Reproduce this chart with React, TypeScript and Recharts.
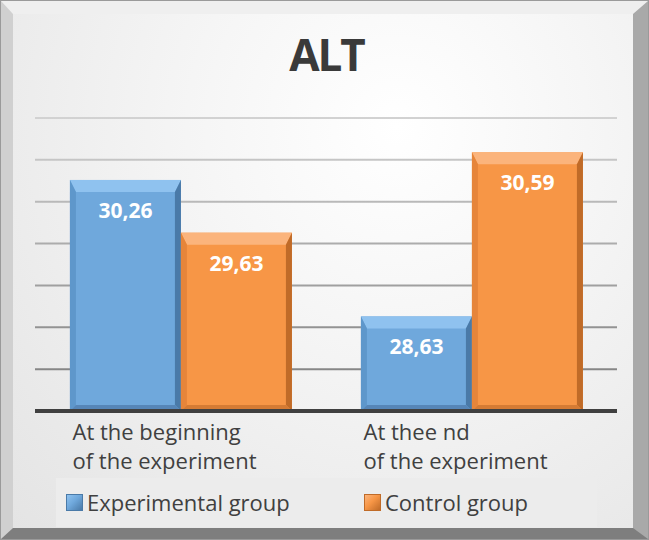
import React from "react";
import { BarChart, Bar, XAxis, YAxis, CartesianGrid, Legend, LabelList } from "recharts";

const categories = ["At the beginning\nof the experiment", "At thee nd\nof the experiment"];
const experimental = [30.26, 28.63];
const control = [29.63, 30.59];
const yTicks = [27.5, 28, 28.5, 29, 29.5, 30, 30.5, 31];

const seriesNames = ["Experimental group", "Control group"];
const seriesTones = ["blue", "orange"];

const data = categories.map((name, i) => ({
  name,
  experimental: experimental[i],
  control: control[i],
}));

const FONT = "'Open Sans', 'Noto Sans', sans-serif";
const TEXT = "#404040";

const palettes: Record<string, { face: string; top: string; left: string; right: string; bottom: string }> = {
  blue: { face: "#6fa8dc", top: "#8fc2ef", left: "#5e97cb", right: "#4a7aa8", bottom: "#5686b8" },
  orange: { face: "#f79646", top: "#fbb47c", left: "#e6853a", right: "#c06b28", bottom: "#d57b34" },
};

function BevelBar(props: any) {
  const { x, y, width: w, height: h, tone } = props;
  if (!w || !h || h <= 0) return null;
  const c = palettes[tone];
  const bt = 12;
  const bs = 6;
  return (
    <g>
      <rect x={x} y={y} width={w} height={h} fill={c.face} />
      <polygon points={`${x},${y} ${x + w},${y} ${x + w - bs},${y + bt} ${x + bs},${y + bt}`} fill={c.top} />
      <polygon points={`${x},${y} ${x + bs},${y + bt} ${x + bs},${y + h - bs} ${x},${y + h}`} fill={c.left} />
      <polygon points={`${x + w},${y} ${x + w - bs},${y + bt} ${x + w - bs},${y + h - bs} ${x + w},${y + h}`} fill={c.right} />
      <polygon points={`${x},${y + h} ${x + bs},${y + h - bs} ${x + w - bs},${y + h - bs} ${x + w},${y + h}`} fill={c.bottom} />
    </g>
  );
}

function ValueLabel(props: any) {
  const { x, y, width, value } = props;
  return (
    <text
      x={x + width / 2}
      y={y + 38}
      textAnchor="middle"
      fill="#ffffff"
      fontFamily={FONT}
      fontWeight="bold"
      fontSize={21}
    >
      {Number(value).toFixed(2).replace(".", ",")}
    </text>
  );
}

function CategoryTick(props: any) {
  const { x, y, payload } = props;
  const lines = String(payload.value).split("\n");
  return (
    <text x={x - 108} y={y} fill={TEXT} fontFamily={FONT} fontSize={22} textAnchor="start">
      {lines.map((l, i) => (
        <tspan key={i} x={x - 108} dy={i === 0 ? 29 : 29}>
          {l}
        </tspan>
      ))}
    </text>
  );
}

function LegendBox(props: any) {
  const payload = props.payload || [];
  const items = seriesNames.map((n) => payload.find((p: any) => p.value === n)).filter(Boolean);
  return (
    <div
      style={{
        width: "100%",
        height: "100%",
        background: "#ececec",
        fontFamily: FONT,
        fontSize: 22,
        color: TEXT,
        position: "relative",
      }}
    >
      {items.map((it: any, i: number) => {
        const c = palettes[seriesTones[seriesNames.indexOf(it.value)]];
        return (
          <div
            key={i}
            style={{
              display: "flex",
              alignItems: "center",
              position: "absolute",
              top: 9,
              left: i === 0 ? 10 : 308,
              lineHeight: "30px",
            }}
          >
            <span
              style={{
                display: "inline-block",
                width: 17,
                height: 17,
                marginRight: 4,
                background: `linear-gradient(135deg, ${c.top} 0%, ${c.face} 45%, ${c.right} 100%)`,
                border: `1px solid ${c.right}`,
                boxSizing: "border-box",
              }}
            />
            <span>{it.value}</span>
          </div>
        );
      })}
    </div>
  );
}

export default function App() {
  return (
    <div style={{ position: "absolute", left: 0, top: 0, width: 649, height: 540 }}>
      <div
        style={{
          position: "absolute",
          inset: 0,
          boxSizing: "border-box",
          border: "1px solid #9a9a9a",
        }}
      >
        <div
          style={{
            position: "absolute",
            inset: 0,
            boxSizing: "border-box",
            borderStyle: "solid",
            borderTopWidth: 13,
            borderLeftWidth: 12,
            borderRightWidth: 15,
            borderBottomWidth: 11,
            borderTopColor: "#efefef",
            borderLeftColor: "#d0d0d0",
            borderRightColor: "#a9a9a9",
            borderBottomColor: "#7e7e7e",
            background: "radial-gradient(ellipse at 62% 22%, #ffffff 0%, #f6f6f6 35%, #e4e4e4 100%)",
          }}
        />
      </div>
      <div
        style={{
          position: "absolute",
          left: 0,
          width: 649,
          top: 24,
          textAlign: "center",
          fontFamily: FONT,
          fontWeight: "bold",
          fontSize: 44,
          letterSpacing: -2,
          color: "#3a3a3a",
          lineHeight: "60px",
          paddingLeft: 4,
          boxSizing: "border-box",
        }}
      >
        ALT
      </div>
      <div style={{ position: "absolute", left: 0, top: 0 }}>
        <BarChart
          width={649}
          height={540}
          data={data}
          margin={{ top: 118, right: 32, bottom: 69, left: 35 }}
          barCategoryGap="12%"
          barGap={0}
        >
          <defs>
            <linearGradient id="gridGrad" gradientUnits="userSpaceOnUse" x1="0" y1="110" x2="0" y2="411">
              <stop offset="0%" stopColor="#d4d4d4" />
              <stop offset="100%" stopColor="#7a7a7a" />
            </linearGradient>
          </defs>
          <CartesianGrid vertical={false} stroke="url(#gridGrad)" strokeWidth={2} />
          <YAxis hide domain={[27.5, 31]} ticks={yTicks} allowDataOverflow />
          <XAxis
            dataKey="name"
            height={60}
            axisLine={{ stroke: "#404040", strokeWidth: 4 }}
            tickLine={false}
            tickSize={0}
            tickMargin={0}
            interval={0}
            tick={<CategoryTick />}
          />
          <Legend
            layout="horizontal"
            verticalAlign="middle"
            align="center"
            wrapperStyle={{ position: "absolute", left: 56, top: 478, width: 541, height: 49 }}
            content={<LegendBox />}
          />
          <Bar
            dataKey="experimental"
            name={seriesNames[0]}
            fill="#6fa8dc"
            isAnimationActive={false}
            shape={<BevelBar tone="blue" />}
          >
            <LabelList dataKey="experimental" content={<ValueLabel />} />
          </Bar>
          <Bar
            dataKey="control"
            name={seriesNames[1]}
            fill="#f79646"
            isAnimationActive={false}
            shape={<BevelBar tone="orange" />}
          >
            <LabelList dataKey="control" content={<ValueLabel />} />
          </Bar>
        </BarChart>
      </div>
    </div>
  );
}
